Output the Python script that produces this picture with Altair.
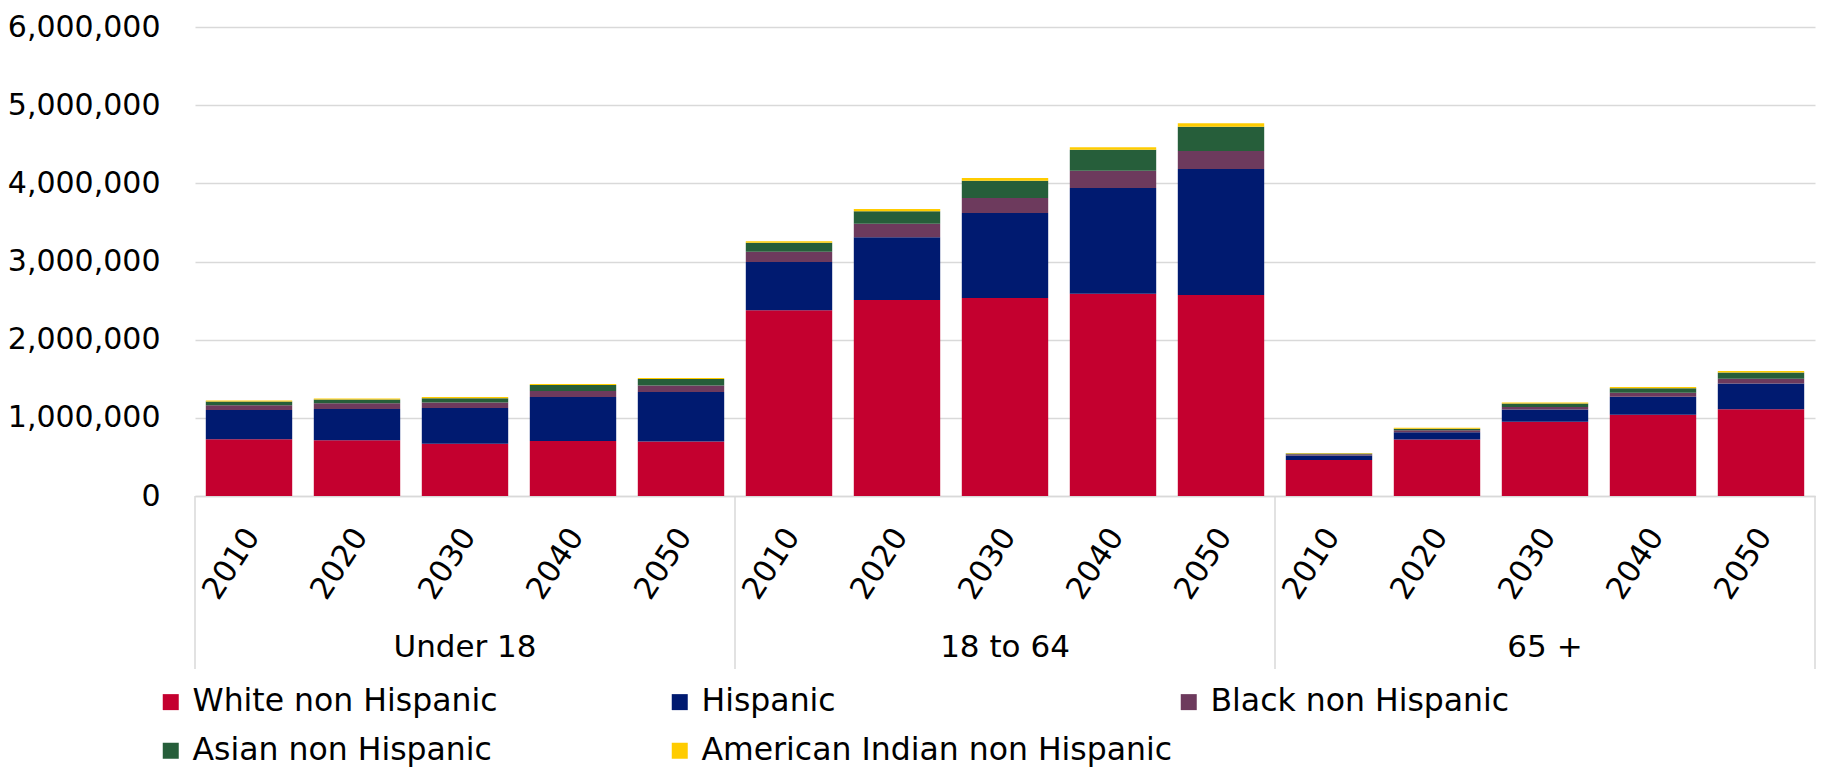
import altair as alt
import pandas as pd

groups = ["Under 18", "18 to 64", "65 +"]
years = ["2010", "2020", "2030", "2040", "2050"]
series = ["White non Hispanic", "Hispanic", "Black non Hispanic",
          "Asian non Hispanic", "American Indian non Hispanic"]
colors = ["#C4002F", "#001A70", "#6D3A5D", "#265E3A", "#FFCC00"]

# values in persons, order: Under 18 (2010..2050), 18 to 64 (2010..2050), 65 + (2010..2050)
white = [726000, 713000, 670000, 704000, 696000,
         2375000, 2507000, 2533000, 2588000, 2571000,
         462000, 722000, 949000, 1038000, 1111000]
hispanic = [375000, 401000, 457000, 564000, 636000,
            619000, 802000, 1087000, 1352000, 1612000,
            55000, 94000, 158000, 231000, 329000]
black = [60000, 73000, 68000, 76000, 81000,
         132000, 175000, 192000, 222000, 231000,
         17000, 26000, 30000, 52000, 60000]
asian = [47000, 46000, 56000, 77000, 85000,
         115000, 158000, 222000, 269000, 311000,
         9000, 17000, 47000, 59000, 81000]
amind = [13000, 13000, 17000, 13000, 13000,
         17000, 30000, 34000, 30000, 43000,
         8000, 13000, 13000, 13000, 17000]

series_values = [white, hispanic, black, asian, amind]
keys = [g + "|" + y for g in groups for y in years]

rows = []
for si, (name, vals) in enumerate(zip(series, series_values)):
    for k, v in zip(keys, vals):
        rows.append({"key": k, "series": name, "order": si, "value": v})
df = pd.DataFrame(rows)

W, H = 1620, 469
FONT = "DejaVu Sans"

xscale = alt.Scale(domain=keys, paddingInner=0.2, paddingOuter=0.1)

bars = alt.Chart(df).mark_bar().encode(
    x=alt.X("key:N", scale=xscale, title=None,
            axis=alt.Axis(labelExpr="split(datum.value, '|')[1]", labelAngle=-57,
                          labelAlign="right", labelBaseline="middle",
                          labelPadding=35, labelOffset=4, labelFontSize=30.5,
                          labelFont=FONT, labelColor="#000000", ticks=False,
                          domainColor="#d9d9d9", domainWidth=1.5,
                          labelOverlap=False, labelBound=False)),
    y=alt.Y("value:Q", stack="zero", title=None,
            scale=alt.Scale(domain=[0, 6000000], nice=False),
            axis=alt.Axis(values=[0, 1000000, 2000000, 3000000, 4000000, 5000000, 6000000],
                          format=",d", labelFontSize=30, labelFont=FONT,
                          labelColor="#000000", labelPadding=35, ticks=False,
                          domain=False, gridColor="#d9d9d9", gridWidth=1.5)),
    color=alt.Color("series:N", title=None,
                    scale=alt.Scale(domain=series, range=colors),
                    legend=alt.Legend(orient="none", legendX=-40, legendY=659,
                                      columns=3, gridAlign="all", columnPadding=0,
                                      rowPadding=16, symbolType="square",
                                      symbolSize=256, symbolStrokeWidth=0,
                                      labelFontSize=31.5, labelFont=FONT,
                                      labelColor="#000000", labelLimit=0,
                                      labelOffset=6, direction="horizontal")),
    order=alt.Order("order:Q", sort="ascending"),
)

gdf = pd.DataFrame({"group": groups,
                    "start": [g + "|" + years[0] for g in groups],
                    "mid": [g + "|" + years[2] for g in groups],
                    "end": [g + "|" + years[-1] for g in groups]})

group_labels = alt.Chart(gdf).mark_text(fontSize=31, font=FONT, color="#000000",
                                        baseline="middle").encode(
    x=alt.X("mid:N", scale=xscale, title=None, bandPosition=0.5),
    y=alt.value(621),
    text="group:N",
)

sep_start = alt.Chart(gdf).mark_rule(color="#d9d9d9", strokeWidth=1.5, xOffset=-10.8).encode(
    x=alt.X("start:N", scale=xscale, title=None, bandPosition=0),
    y=alt.value(H),
    y2=alt.value(H + 173),
)

sep_end = alt.Chart(gdf.tail(1)).mark_rule(color="#d9d9d9", strokeWidth=1.5, xOffset=10.8).encode(
    x=alt.X("end:N", scale=xscale, title=None, bandPosition=1),
    y=alt.value(H),
    y2=alt.value(H + 173),
)

chart = alt.layer(bars, sep_start, sep_end, group_labels).properties(
    width=W, height=H,
    autosize=alt.AutoSizeParams(type="none"),
    padding={"left": 187, "top": 19, "right": 1, "bottom": 274},
).configure(font=FONT, view=alt.ViewConfig(stroke=None))

chart.save("out.html", embed_options={"renderer": "svg", "actions": False})
